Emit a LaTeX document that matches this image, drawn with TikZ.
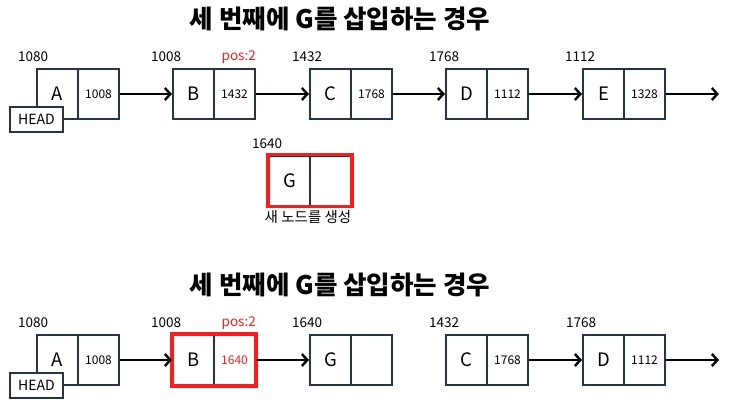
\documentclass[tikz,border=0pt]{standalone}
\usepackage{fontspec}
\setmainfont{Noto Sans CJK KR}
\usetikzlibrary{arrows.meta,calc}
\definecolor{boxline}{HTML}{243449}
\definecolor{hotred}{HTML}{FF1A1A}
\tikzset{
  cell/.style={draw=boxline, line width=2pt, minimum width=41pt, minimum height=50pt, inner sep=0pt, fill=white},
  datatxt/.style={font=\fontsize{18.5}{20}\selectfont},
  ptrtxt/.style={font=\fontsize{12}{14}\selectfont},
  addr/.style={font=\fontsize{13.5}{15}\selectfont, inner sep=0pt},
  headbox/.style={draw=boxline, line width=2pt, fill=white, minimum width=53pt, minimum height=25pt, inner sep=0pt, font=\fontsize{14}{16}\selectfont},
  link/.style={line width=2.4pt, -{Straight Barb[length=5.5pt,width=12pt,line width=2.4pt]}},
  title/.style={font=\fontsize{25.5}{27}\selectfont\bfseries},
  redframe/.style={draw=hotred, line width=3.5pt},
}
% \LLbox{name}{left x}{center y}{data}{pointer}
\newcommand\LLbox[5]{%
  \node[cell, datatxt] (#1) at (#2+20.5, #3) {#4};
  \node[cell, ptrtxt] (#1p) at (#2+61.5, #3) {#5};
}
\begin{document}
\begin{tikzpicture}[x=1pt, y=-1pt]
\useasboundingbox (0,0) rectangle (730,408);

% ---------- top ----------
\node[title] (t1) at (340,19) {세 번째에 G를 삽입하는 경우};

\LLbox{tA}{37}{94}{A}{1008}
\LLbox{tB}{173}{94}{B}{1432}
\LLbox{tC}{310}{94}{C}{1768}
\LLbox{tD}{446}{94}{D}{1112}
\LLbox{tE}{583}{94}{E}{1328}
\node[headbox] (th) at (36.5,119.5) {HEAD};
\coordinate (tend) at (719,94);

\node[addr, anchor=west] (ltA) at ($(tA.north west)+(-18,-11)$) {1080};
\node[addr, anchor=west] (ltB) at ($(tB.north west)+(-21,-11)$) {1008};
\node[addr, anchor=east, text=hotred] (ltP) at ($(tBp.north east)+(0,-11)$) {pos:2};
\node[addr, anchor=west] (ltC) at ($(tC.north west)+(-17,-11)$) {1432};
\node[addr, anchor=west] (ltD) at ($(tD.north west)+(-16,-11)$) {1768};
\node[addr, anchor=west] (ltE) at ($(tE.north west)+(-17,-11)$) {1112};

\draw[link] (tAp.east) -- (tB.west);
\draw[link] (tBp.east) -- (tC.west);
\draw[link] (tCp.east) -- (tD.west);
\draw[link] (tDp.east) -- (tE.west);
\draw[link] (tEp.east) -- (tend);

% new node G
\LLbox{gG}{269}{180.5}{G}{}
\draw[redframe] (gG.north west) rectangle (gGp.south east);
\node[addr, anchor=west] (lgG) at ($(gG.north west)+(-16,-11)$) {1640};
\node[font=\fontsize{14.5}{16}\selectfont, inner sep=0pt] (gnote) at (308,217) {새 노드를 생성};

% ---------- bottom ----------
\node[title] (t2) at (340,285) {세 번째에 G를 삽입하는 경우};

\LLbox{bA}{37}{360}{A}{1008}
\LLbox{bB}{173}{360}{B}{\textcolor{hotred}{1640}}
\LLbox{bG}{310}{360}{G}{}
\LLbox{bC}{446}{360}{C}{1768}
\LLbox{bD}{583}{360}{D}{1112}
\node[headbox] (bh) at (36.5,385.5) {HEAD};
\draw[redframe] (bB.north west) rectangle (bBp.south east);
\coordinate (bend) at (719,360);

\node[addr, anchor=west] (lbA) at ($(bA.north west)+(-18,-11)$) {1080};
\node[addr, anchor=west] (lbB) at ($(bB.north west)+(-21,-11)$) {1008};
\node[addr, anchor=east, text=hotred] (lbP) at ($(bBp.north east)+(0,-11)$) {pos:2};
\node[addr, anchor=west] (lbG) at ($(bG.north west)+(-17,-11)$) {1640};
\node[addr, anchor=west] (lbC) at ($(bC.north west)+(-16,-11)$) {1432};
\node[addr, anchor=west] (lbD) at ($(bD.north west)+(-16,-11)$) {1768};

\draw[link] (bAp.east) -- (bB.west);
\draw[link] (bBp.east) -- (bG.west);
\draw[link] (bCp.east) -- (bD.west);
\draw[link] (bDp.east) -- (bend);
\end{tikzpicture}
\end{document}
